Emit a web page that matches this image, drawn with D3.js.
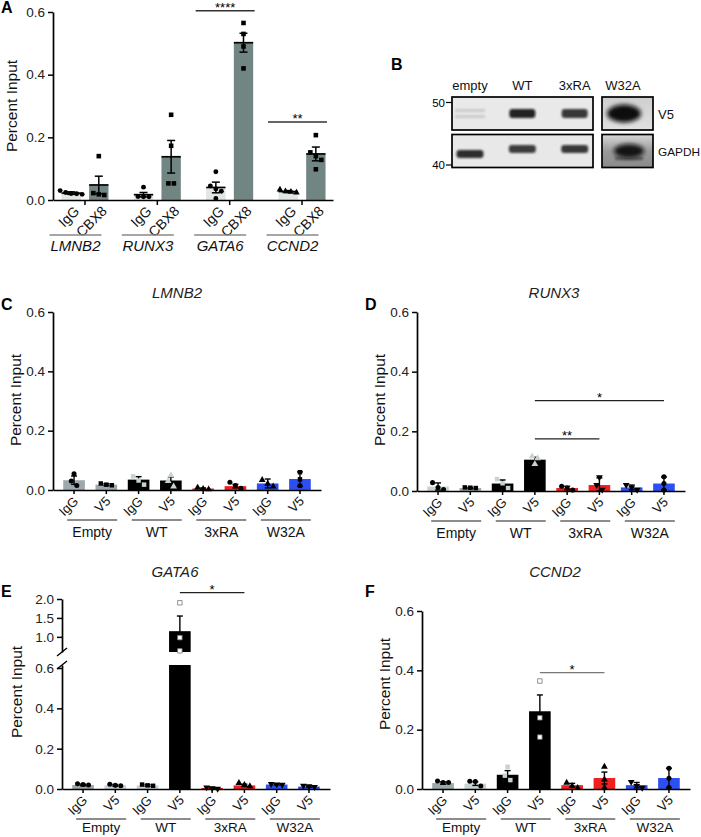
<!DOCTYPE html>
<html><head><meta charset="utf-8">
<script src="https://cdn.jsdelivr.net/npm/d3@7"></script>
<style>
html,body{margin:0;padding:0;background:#fff;}
svg{display:block;font-family:"Liberation Sans",Arial,sans-serif;}
</style></head><body>
<svg id="fig" width="701" height="837"></svg>
<script>
// ================= DATA =================
// Panel A
const aGenes = ["LMNB2","RUNX3","GATA6","CCND2"];
const aAntibodies = ["IgG","CBX8"];
const aIgGMean = [0.022,0.017,0.040,0.027];
const aIgGErr  = [0.004,0.007,0.017,0.003];
const aCBX8Mean = [0.048,0.138,0.502,0.147];
const aCBX8Err  = [0.028,0.052,0.030,0.022];
const aIgGPoints = [[0.030,0.024,0.020,0.018,0.021],[0.041,0.011,0.010,0.010],[0.090,0.045,0.035,0.028,0.005],[0.033,0.028,0.026,0.024]];
const aCBX8Points = [[0.140,0.022,0.018,0.016],[0.272,0.173,0.053,0.053],[0.565,0.530,0.490,0.420],[0.207,0.152,0.140,0.128,0.098]];
const aSig = [{gene:"GATA6",label:"****",level:0.604},{gene:"CCND2",label:"**",level:0.249}];

// Panel B (western blot)
const blotLanes = ["empty","WT","3xRA","W32A"];
const v5Signal = [0.12,0.9,0.8,1.0];
const gapdhSignal = [0.85,0.78,0.8,0.95];
const markerKDa = ["50","40"];
const blotRows = ["V5","GAPDH"];

// Panels C-F
const conditions = ["Empty","WT","3xRA","W32A"];
const antibodies = ["IgG","V5"];

const lmnb2Mean = [0.033,0.018,0.035,0.032,0.005,0.013,0.022,0.037];
const lmnb2Err  = [0.014,0.003,0.010,0.012,0.002,0.006,0.015,0.024];
const lmnb2Points = [[0.055,0.030,0.015],[0.022,0.018,0.016],[0.046,0.032,0.018],[0.050,0.030,0.012],[0.008,0.004,0.002],[0.026,0.015,0.006],[0.034,0.021,0.012],[0.060,0.036,0.014]];

const runx3Mean = [0.015,0.010,0.025,0.105,0.010,0.020,0.012,0.025];
const runx3Err  = [0.012,0.002,0.012,0.008,0.006,0.024,0.008,0.022];
const runx3Points = [[0.028,0.012,0.005],[0.012,0.011,0.010],[0.040,0.026,0.010],[0.116,0.110,0.090],[0.016,0.010,0.003],[0.046,0.020,0.004],[0.020,0.012,0.004],[0.048,0.025,0.003]];

const gata6Mean = [0.020,0.018,0.018,1.15,0.005,0.018,0.022,0.012];
const gata6Err  = [0.004,0.004,0.004,0.40,0.003,0.006,0.002,0.003];
const gata6Points = [[0.026,0.022,0.020],[0.024,0.018,0.016],[0.022,0.018,0.016],[1.90,0.98,0.63],[0.008,0.004,0.001],[0.030,0.020,0.014],[0.025,0.023,0.021],[0.016,0.014,0.010]];

const ccnd2Mean = [0.020,0.018,0.048,0.262,0.013,0.037,0.013,0.037];
const ccnd2Err  = [0.004,0.006,0.014,0.055,0.006,0.020,0.009,0.033];
const ccnd2Points = [[0.027,0.022,0.022],[0.026,0.025,0.010],[0.075,0.045,0.030],[0.364,0.240,0.175],[0.021,0.010,0.004],[0.075,0.032,0.005],[0.024,0.010,0.004],[0.070,0.036,0.005]];

const sigD = [{from:"WT|V5",to:"3xRA|V5",label:"**",level:0.175},{from:"WT|V5",to:"W32A|V5",label:"*",level:0.303}];
const sigE = [{from:"WT|V5",to:"3xRA|V5",label:"*",level:2.17}];
const sigF = [{from:"WT|V5",to:"3xRA|V5",label:"*",level:0.392}];

// ================= STYLE =================
const GREY="#9da8ac", LGREY="#c9d2d3", BLK="#000", RED="#ee2020", BLUE="#2d4ef2";
const FONT = '"Liberation Sans",Arial,sans-serif';
const svg = d3.select("#fig");
const defs = svg.append("defs");
defs.append("filter").attr("id","blur").attr("x","-50%").attr("y","-100%").attr("width","200%").attr("height","300%")
  .append("feGaussianBlur").attr("stdDeviation",1.3);
defs.append("filter").attr("id","blur2").attr("x","-50%").attr("y","-100%").attr("width","200%").attr("height","300%")
  .append("feGaussianBlur").attr("stdDeviation",2.2);

function symbolPath(type, size){
  const t = {circle:d3.symbolCircle, square:d3.symbolSquare, triangle:d3.symbolTriangle, tridown:d3.symbolTriangle, diamond:d3.symbolDiamond}[type];
  return d3.symbol().type(t).size(size)();
}
function swarm(vals, yFn, cx, step){
  const items = vals.map(v=>({v, y:yFn(v)})).sort((a,b)=>a.y-b.y);
  const rows=[];
  items.forEach(it=>{const last=rows[rows.length-1]; if(last && Math.abs(it.y-last[last.length-1].y)<step) last.push(it); else rows.push([it]);});
  rows.forEach(r=>r.forEach((it,i)=>{it.x = cx+(i-(r.length-1)/2)*step;}));
  return items;
}
function panelLetter(t,x,y){ svg.append("text").attr("x",x).attr("y",y).attr("font-size",16).attr("font-weight","bold").text(t); }
function yLabel(x,y,size){
  svg.append("text").attr("transform",`translate(${x},${y}) rotate(-90)`).attr("text-anchor","middle")
    .attr("font-size",size).attr("fill","#111").text("Percent Input");
}
function styleAxis(g, fs){
  g.selectAll("path.domain").attr("stroke","#000").attr("stroke-width",1.7);
  g.selectAll(".tick line").attr("stroke","#000").attr("stroke-width",1.5);
  g.selectAll(".tick text").attr("font-size",fs).attr("font-family",FONT).attr("fill","#222");
}

// ================= PANEL A =================
(function(){
  const xA = d3.scalePoint().domain(aGenes).range([53,333]).padding(0.435);
  const xIn = d3.scaleBand().domain(aAntibodies).range([-23,24]).paddingInner(0.3);
  const yA = d3.scaleLinear().domain([0,0.6]).range([200,12]);
  const g = svg.append("g");
  const cols = {IgG:"#dfe6e3", CBX8:"#718683"};
  aGenes.forEach((gene,i)=>{
    const means=[aIgGMean[i],aCBX8Mean[i]], errs=[aIgGErr[i],aCBX8Err[i]], pts=[aIgGPoints[i],aCBX8Points[i]];
    aAntibodies.forEach((ab,j)=>{
      const x = xA(gene)+xIn(ab), w = xIn.bandwidth(), cx = x+w/2;
      g.append("rect").attr("x",x).attr("y",yA(means[j])).attr("width",w).attr("height",yA(0)-yA(means[j])).attr("fill",cols[ab]);
      const shape = ab==="CBX8" ? "square" : (gene==="CCND2" ? "triangle" : "circle");
      swarm(pts[j], yA, cx, 5.5).forEach(p=>{
        g.append("path").attr("d",symbolPath(shape, shape==="square"?21:19)).attr("transform",`translate(${p.x},${p.y})`).attr("fill","#000");
      });
      g.append("line").attr("x1",x).attr("x2",x+w).attr("y1",yA(means[j])).attr("y2",yA(means[j])).attr("stroke","#000").attr("stroke-width",1.7);
      const y1=yA(Math.max(0,means[j]-errs[j])), y2=yA(means[j]+errs[j]);
      g.append("line").attr("x1",cx).attr("x2",cx).attr("y1",y1).attr("y2",y2).attr("stroke","#000").attr("stroke-width",1.5);
      [y1,y2].forEach(yy=>g.append("line").attr("x1",cx-4).attr("x2",cx+4).attr("y1",yy).attr("y2",yy).attr("stroke","#000").attr("stroke-width",1.5));
      g.append("text").attr("transform",`translate(${cx+9},${yA(0)+12}) rotate(-45)`).attr("text-anchor","end")
        .attr("font-size",14).attr("fill","#111").text(ab);
    });
    const lc = xA(gene)-9;
    g.append("line").attr("x1",lc-26).attr("x2",lc+26).attr("y1",235).attr("y2",235).attr("stroke","#888").attr("stroke-width",1.6);
    g.append("text").attr("x",lc).attr("y",251).attr("text-anchor","middle").attr("font-size",15).attr("font-style","italic").attr("fill","#111").text(gene);
  });
  const ax = g.append("g").attr("transform","translate(53,0)")
    .call(d3.axisLeft(yA).tickValues([0,0.2,0.4,0.6]).tickFormat(d3.format(".1f")).tickSize(5).tickSizeOuter(0));
  styleAxis(ax,13.5);
  const bx = g.append("g").attr("transform","translate(0,200)")
    .call(d3.axisBottom(xA).tickSize(5).tickSizeOuter(0).tickFormat(""));
  styleAxis(bx,13);
  aSig.forEach(s=>{
    const c = xA(s.gene)-4, yy=yA(s.level);
    g.append("line").attr("x1",c-29.5).attr("x2",c+29.5).attr("y1",yy).attr("y2",yy).attr("stroke","#333").attr("stroke-width",1.3);
    g.append("text").attr("x",c).attr("y",yy+1).attr("text-anchor","middle").attr("font-size",13).text(s.label);
  });
  yLabel(17,106,15.5);
  panelLetter("A",1,13);
})();

// ================= PANEL B =================
(function(){
  const g = svg.append("g");
  const lx = d3.scalePoint().domain(blotLanes).range([470,627]);
  const ry = d3.scalePoint().domain(blotRows).range([113.5,151]);
  const boxes = [
    {x0:452,x1:593,row:"V5",fill:"#e9e9e9"},{x0:452,x1:593,row:"GAPDH",fill:"#e8e8e8"},
    {x0:602,x1:653,row:"V5",fill:"url(#gV5)"},{x0:602,x1:653,row:"GAPDH",fill:"url(#gGA)"}];
  const gr1 = defs.append("linearGradient").attr("id","gV5").attr("x1",0).attr("y1",0).attr("x2",0).attr("y2",1);
  gr1.append("stop").attr("offset",0).attr("stop-color","#cfcfcf");
  gr1.append("stop").attr("offset",1).attr("stop-color","#e0e0e0");
  const gr2 = defs.append("linearGradient").attr("id","gGA").attr("x1",0).attr("y1",0).attr("x2",0).attr("y2",1);
  gr2.append("stop").attr("offset",0).attr("stop-color","#d8d8d8");
  gr2.append("stop").attr("offset",0.5).attr("stop-color","#9a9a9a");
  gr2.append("stop").attr("offset",1).attr("stop-color","#8a8a8a");
  boxes.forEach(b=>{
    g.append("rect").attr("x",b.x0).attr("y",ry(b.row)-16.5).attr("width",b.x1-b.x0).attr("height",33).attr("fill",b.fill);
  });
  blotLanes.forEach((ln,i)=>{
    const cx = lx(ln);
    if(ln==="empty"){
      [-3,3].forEach(dy=>g.append("rect").attr("x",cx-15).attr("y",ry("V5")+dy-1.5).attr("width",30).attr("height",3)
        .attr("fill","#000").attr("opacity",v5Signal[i]).attr("filter","url(#blur)"));
    } else if(ln==="W32A"){
      g.append("ellipse").attr("cx",cx-3).attr("cy",ry("V5")).attr("rx",17).attr("ry",9).attr("fill","#111").attr("opacity",v5Signal[i]).attr("filter","url(#blur2)");
    } else {
      g.append("rect").attr("x",cx-13).attr("y",ry("V5")-4.5).attr("width",26).attr("height",9).attr("rx",3)
        .attr("fill","#111").attr("opacity",v5Signal[i]).attr("filter","url(#blur)");
    }
    if(ln==="W32A"){
      g.append("ellipse").attr("cx",cx+2).attr("cy",ry("GAPDH")).attr("rx",15).attr("ry",7).attr("fill","#111").attr("opacity",gapdhSignal[i]).attr("filter","url(#blur2)");
      g.append("rect").attr("x",cx-12).attr("y",ry("GAPDH")+6).attr("width",28).attr("height",3).attr("fill","#222").attr("opacity",0.5).attr("filter","url(#blur)");
    } else {
      const dy = ln==="empty"?3:-2;
      g.append("rect").attr("x",cx-13.5).attr("y",ry("GAPDH")+dy-4).attr("width",27).attr("height",8).attr("rx",3)
        .attr("fill","#111").attr("opacity",gapdhSignal[i]).attr("filter","url(#blur)");
    }
    g.append("text").attr("x",ln==="W32A"?cx-4:cx).attr("y",90).attr("text-anchor","middle").attr("font-size",13).attr("fill","#111").text(ln);
  });
  boxes.forEach(b=>{
    g.append("rect").attr("x",b.x0).attr("y",ry(b.row)-16.5).attr("width",b.x1-b.x0).attr("height",33)
      .attr("fill","none").attr("stroke","#000").attr("stroke-width",1.7);
  });
  const my = [ry("V5")-11, ry("GAPDH")+14];
  markerKDa.forEach((m,i)=>{
    g.append("line").attr("x1",446).attr("x2",452).attr("y1",my[i]).attr("y2",my[i]).attr("stroke","#000").attr("stroke-width",1.2);
    g.append("text").attr("x",445).attr("y",my[i]+4).attr("text-anchor","end").attr("font-size",11.5).text(m);
  });
  blotRows.forEach(r=>{
    g.append("text").attr("x",658).attr("y",ry(r)+5).attr("font-size",r==="GAPDH"?11.8:13).attr("fill","#111").text(r);
  });
  panelLetter("B",391,70);
})();

// ================= PANELS C-F =================
const barKeys = conditions.flatMap(c=>antibodies.map(a=>c+"|"+a));
function drawPanel(cfg){
  const g = svg.append("g");
  const x = d3.scaleBand().domain(barKeys).range([cfg.x0,cfg.x0+268]).paddingInner(0.33).paddingOuter(0.317);
  const yFn = cfg.yFn;
  const base = cfg.axisY;
  barKeys.forEach((k,i)=>{
    const m = cfg.mean[i], e = cfg.err[i];
    const bx = x(k), w = x.bandwidth(), cx = bx + w/2;
    const col = cfg.barColors[i];
    if(cfg.broken && m>cfg.breakAt){
      g.append("rect").attr("x",bx).attr("y",cfg.lowerTop).attr("width",w).attr("height",base-cfg.lowerTop).attr("fill",col);
      g.append("rect").attr("x",bx).attr("y",yFn(m)).attr("width",w).attr("height",cfg.upperBottom-yFn(m)).attr("fill",col);
    } else {
      g.append("rect").attr("x",bx).attr("y",yFn(m)).attr("width",w).attr("height",Math.max(0.8,base-yFn(m))).attr("fill",col);
    }
    const y1 = yFn(Math.max(0,m-e)), y2 = yFn(m+e);
    g.append("line").attr("x1",cx).attr("x2",cx).attr("y1",y1).attr("y2",y2).attr("stroke","#000").attr("stroke-width",1.4);
    [y1,y2].forEach(yy=>g.append("line").attr("x1",cx-3).attr("x2",cx+3).attr("y1",yy).attr("y2",yy).attr("stroke","#000").attr("stroke-width",1.4));
    const shape = cfg.shapes[i], pf = cfg.ptColors[i];
    swarm(cfg.points[i], yFn, cx, 5.5).forEach(p=>{
      g.append("path").attr("d",symbolPath(shape,20)).attr("transform",`translate(${p.x},${p.y})${shape==="tridown"?" rotate(180)":""}`)
        .attr("fill",pf).attr("stroke",pf==="#fff"?"#777":"none").attr("stroke-width",0.8);
    });
    g.append("text").attr("transform",`translate(${cx+5},${base+12}) rotate(-45)`).attr("text-anchor","end")
      .attr("font-size",13).attr("fill","#111").text(k.split("|")[1]);
  });
  conditions.forEach(c=>{
    const c0 = x(c+"|IgG")+x.bandwidth()/2, c1 = x(c+"|V5")+x.bandwidth()/2, mid=(c0+c1)/2+2;
    g.append("line").attr("x1",mid-25).attr("x2",mid+25).attr("y1",base+30).attr("y2",base+30).attr("stroke","#666").attr("stroke-width",1.5);
    g.append("text").attr("x",mid).attr("y",base+cfg.groupLabelDy).attr("text-anchor","middle").attr("font-size",cfg.groupLabelSize).attr("fill","#111").text(c);
  });
  const bxAx = g.append("g").attr("transform",`translate(0,${base})`)
    .call(d3.axisBottom(x).tickSize(4).tickSizeOuter(0).tickFormat(""));
  styleAxis(bxAx,12);
  cfg.yAxes.forEach(ya=>{
    const a = g.append("g").attr("transform",`translate(${cfg.x0},0)`)
      .call(d3.axisLeft(ya.scale).tickValues(ya.ticks).tickFormat(d3.format(".1f")).tickSize(5).tickSizeOuter(0));
    styleAxis(a,13.5);
  });
  (cfg.sig||[]).forEach(s=>{
    const xa = x(s.from)+x.bandwidth()/2, xb = x(s.to)+x.bandwidth()/2, yy = yFn(s.level);
    g.append("line").attr("x1",xa).attr("x2",xb).attr("y1",yy).attr("y2",yy).attr("stroke",cfg.sigColor||"#222").attr("stroke-width",1.3);
    g.append("text").attr("x",(xa+xb)/2).attr("y",yy+1).attr("text-anchor","middle").attr("font-size",13).text(s.label);
  });
  g.append("text").attr("x",cfg.titleX).attr("y",cfg.titleY).attr("text-anchor","middle").attr("font-size",15).attr("font-style","italic").attr("fill","#222").text(cfg.title);
  return {g,x};
}

// C
const yC = d3.scaleLinear().domain([0,0.6]).range([490,312]);
drawPanel({x0:53, axisY:490, yFn:yC, mean:lmnb2Mean, err:lmnb2Err, points:lmnb2Points, groupLabelDy:47, groupLabelSize:14,
  barColors:[GREY,GREY,BLK,BLK,RED,RED,BLUE,BLUE],
  ptColors:[BLK,BLK,LGREY,LGREY,BLK,BLK,BLK,BLK],
  shapes:["circle","square","square","triangle","triangle","circle","triangle","square"],
  yAxes:[{scale:yC,ticks:[0,0.2,0.4,0.6]}], title:"LMNB2", titleX:177, titleY:298});
yLabel(21,400,15.5); panelLetter("C",1,310);

// D
const yD = d3.scaleLinear().domain([0,0.6]).range([491,312]);
drawPanel({x0:417, axisY:491, yFn:yD, mean:runx3Mean, err:runx3Err, points:runx3Points, groupLabelDy:47, groupLabelSize:14,
  barColors:[LGREY,GREY,BLK,BLK,RED,RED,BLUE,BLUE],
  ptColors:[BLK,BLK,LGREY,LGREY,BLK,BLK,BLK,BLK],
  shapes:["circle","square","square","triangle","circle","tridown","tridown","circle"],
  yAxes:[{scale:yD,ticks:[0,0.2,0.4,0.6]}], sig:sigD, title:"RUNX3", titleX:554, titleY:298});
yLabel(385,400,15.5); panelLetter("D",365,310);

// E (broken axis)
const yELow = d3.scaleLinear().domain([0,0.615]).range([789,665]);
const yEUp = d3.scaleLinear().domain([0.6,2.0]).range([652,599]);
const yE = v => v<=0.6 ? yELow(v) : yEUp(v);
drawPanel({x0:62, axisY:789, yFn:yE, mean:gata6Mean, err:gata6Err, points:gata6Points, groupLabelDy:43, groupLabelSize:13.5,
  broken:true, breakAt:0.6, lowerTop:665, upperBottom:652,
  barColors:[GREY,LGREY,LGREY,BLK,RED,RED,BLUE,BLUE],
  ptColors:[BLK,BLK,BLK,"#fff",BLK,BLK,BLK,BLK],
  shapes:["circle","circle","square","square","tridown","triangle","tridown","tridown"],
  yAxes:[{scale:yELow,ticks:[0,0.2,0.4,0.6]},{scale:yEUp,ticks:[1.0,1.5,2.0]}], sig:sigE, title:"GATA6", titleX:175, titleY:577});
svg.append("rect").attr("x",58).attr("y",654).attr("width",8).attr("height",9).attr("fill","#fff");
[652,665].forEach(yy=>svg.append("line").attr("x1",57).attr("x2",67).attr("y1",yy+4).attr("y2",yy-4).attr("stroke","#000").attr("stroke-width",1.5));
yLabel(22,692,15.5); panelLetter("E",1,597);

// F
const yF = d3.scaleLinear().domain([0,0.6]).range([789,611]);
drawPanel({x0:422, axisY:789, yFn:yF, mean:ccnd2Mean, err:ccnd2Err, points:ccnd2Points, groupLabelDy:43, groupLabelSize:13.5,
  barColors:[GREY,LGREY,BLK,BLK,RED,RED,BLUE,BLUE],
  ptColors:[BLK,BLK,LGREY,"#fff",BLK,BLK,BLK,BLK],
  shapes:["circle","circle","square","square","triangle","triangle","tridown","circle"],
  yAxes:[{scale:yF,ticks:[0,0.2,0.4,0.6]}], sig:sigF, sigColor:"#777", title:"CCND2", titleX:555, titleY:577});
yLabel(390,684,15.5); panelLetter("F",365,597);
</script>
</body></html>
